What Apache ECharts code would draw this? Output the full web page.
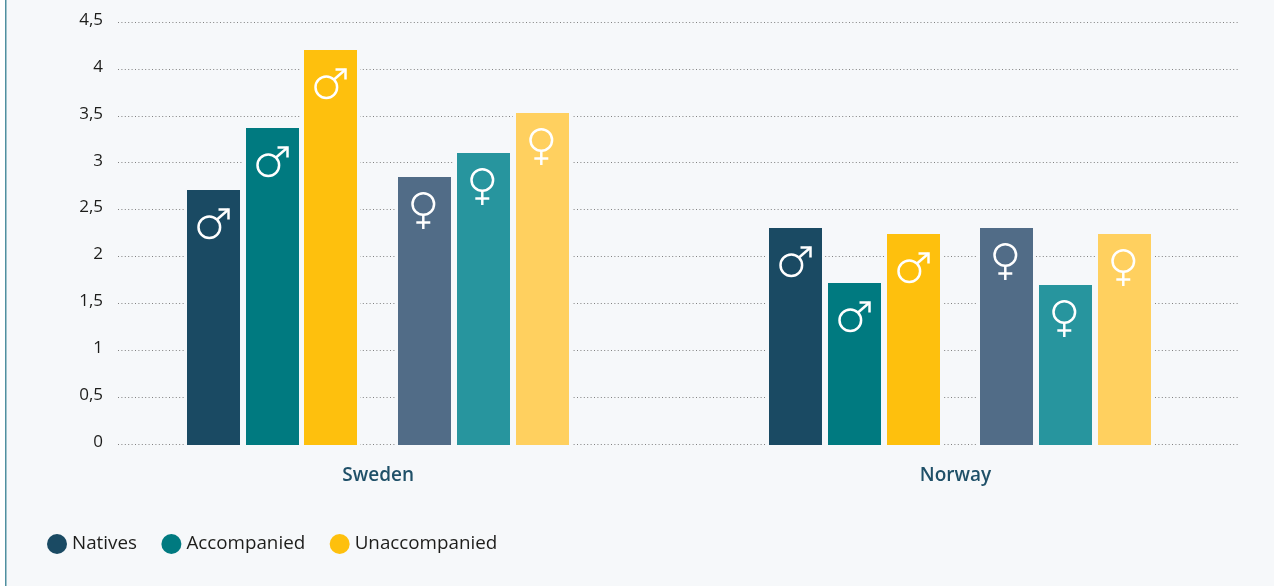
<!DOCTYPE html>
<html>
<head>
<meta charset="utf-8">
<style>html,body{margin:0;padding:0;background:#fff}#c{width:1274px;height:586px}</style>
<script src="https://cdn.jsdelivr.net/npm/echarts@6/dist/echarts.min.js"></script>
</head>
<body>
<div id="c"></div>
<script>
const countries = ['Sweden', 'Norway'];
const tickLabels = ['0', '0,5', '1', '1,5', '2', '2,5', '3', '3,5', '4', '4,5'];
const nativesMale = [2.71, 2.30];
const accompaniedMale = [3.37, 1.72];
const unaccompaniedMale = [4.20, 2.24];
const nativesFemale = [2.85, 2.30];
const accompaniedFemale = [3.10, 1.70];
const unaccompaniedFemale = [3.53, 2.24];

const BG = '#f6f8fa';
const FONT = '"Open Sans", "Noto Sans", sans-serif';
const BAR_W = 53;
const GLYPH = { stroke: '#fff', lineWidth: 2.5, fill: null };

function male(x, top) {
  const s = GLYPH;
  const cx = x + 22.3, cy = top + 37.2;
  return [
    { type: 'circle', shape: { cx, cy, r: 10.8 }, style: s, z2: 5 },
    { type: 'line', shape: { x1: cx + 8, y1: cy - 8, x2: x + 41.5, y2: top + 19.5 }, style: s, z2: 5 },
    { type: 'polyline', shape: { points: [[x + 31.5, top + 19.5], [x + 41.5, top + 19.5], [x + 41.5, top + 29.5]] }, style: s, z2: 5 }
  ];
}
function female(x, top) {
  const s = GLYPH;
  const cx = x + 25.3, cy = top + 27;
  return [
    { type: 'circle', shape: { cx, cy, r: 10.8 }, style: s, z2: 5 },
    { type: 'line', shape: { x1: cx, y1: cy + 11, x2: cx, y2: cy + 25 }, style: s, z2: 5 },
    { type: 'line', shape: { x1: cx - 7, y1: cy + 18.5, x2: cx + 7, y2: cy + 18.5 }, style: s, z2: 5 }
  ];
}
function barSeries(name, values, color, offset, glyph) {
  return {
    type: 'custom', name, xAxisIndex: 1, yAxisIndex: 1, itemStyle: { color },
    data: values.map((v, i) => [i, v]),
    renderItem(params, api) {
      const c = api.coord([api.value(0), api.value(1)]);
      const b = api.coord([api.value(0), 0]);
      const x = Math.round(c[0] + offset), top = Math.round(c[1]), bot = Math.round(b[1]) + 1;
      return {
        type: 'group',
        children: [
          { type: 'rect', shape: { x: x - 3, y: top - 1, width: BAR_W + 6, height: bot - top + 2 }, style: { fill: BG }, z2: 1 },
          { type: 'rect', shape: { x, y: top, width: BAR_W, height: bot - top }, style: { fill: color }, z2: 2 }
        ].concat(glyph(x, top))
      };
    }
  };
}

const chart = echarts.init(document.getElementById('c'), null, { renderer: 'canvas' });
chart.setOption({
  animation: false,
  backgroundColor: '#fff',
  textStyle: { fontFamily: FONT },
  graphic: [
    { type: 'rect', z: -10, shape: { x: 6, y: 0, width: 1268, height: 586 }, style: { fill: BG } },
    { type: 'rect', z: -9, shape: { x: 5, y: 0, width: 1.5, height: 586 }, style: { fill: '#4f8f9f' } }
  ],
  legend: {
    left: 42, top: 529, icon: 'circle', itemWidth: 20, itemHeight: 20, itemGap: 24.5,
    selectedMode: false,
    data: ['Natives', 'Accompanied', 'Unaccompanied'],
    textStyle: { fontFamily: FONT, fontSize: 18.8, color: '#1d1d1b' }
  },
  grid: [
    { left: 118, width: 1121, top: 22, height: 422 },
    { left: 87, width: 1164.6, top: 22, height: 422 }
  ],
  xAxis: [
    { type: 'category', gridIndex: 0, data: countries, show: false },
    {
      type: 'category', gridIndex: 1, data: countries,
      axisLine: { show: false }, axisTick: { show: false },
      axisLabel: {
        margin: 22,
        formatter: v => v === 'Norway' ? '{n|' + v + '}' : '{s|' + v + '}',
        rich: {
          s: { fontFamily: FONT, fontSize: 19, fontWeight: 600, color: '#1f5068' },
          n: { fontFamily: FONT, fontSize: 19, fontWeight: 600, color: '#1f5068', padding: [0, 10, 0, 0] }
        }
      }
    }
  ],
  yAxis: [
    {
      type: 'value', gridIndex: 0, min: 0, max: 4.5, interval: 0.5,
      axisLine: { show: false }, axisTick: { show: false },
      axisLabel: {
        margin: 15, fontFamily: FONT, fontSize: 17, color: '#1d1d1b',
        verticalAlign: 'bottom', lineHeight: 4,
        formatter: (v) => tickLabels[Math.round(v / 0.5)]
      },
      splitLine: { show: true, lineStyle: { color: '#808080', width: 1, type: [1, 2.4] } }
    },
    { type: 'value', gridIndex: 1, min: 0, max: 4.5, interval: 0.5, show: false }
  ],
  series: [
    barSeries('Natives', nativesMale, '#1a4a63', -191, male),
    barSeries('Accompanied', accompaniedMale, '#007a80', -132, male),
    barSeries('Unaccompanied', unaccompaniedMale, '#fec00d', -73.7, male),
    barSeries('Natives', nativesFemale, '#516c87', 20, female),
    barSeries('Accompanied', accompaniedFemale, '#27959e', 79, female),
    barSeries('Unaccompanied', unaccompaniedFemale, '#ffd05f', 138, female)
  ]
});
</script>
</body>
</html>
